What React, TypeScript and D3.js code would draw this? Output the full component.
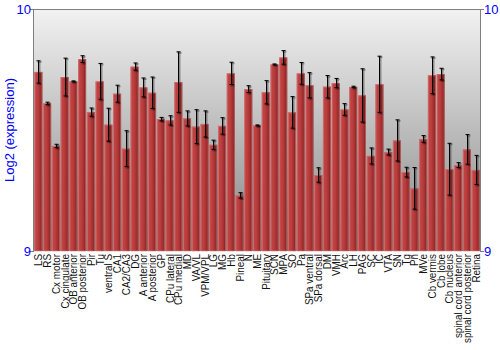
import React from "react";
import * as d3 from "d3";

const categories = ["LS","RS","Cx motor","Cx cingulate","OB anterior","OB posterior","Pir","Tu","ventral S","CA1","CA2/CA3","DG","A anterior","A posterior","GP","CPu lateral","CPu medial","MD","VA/VL","VPM/VPL","LG","MG","Hb","Pineal","N","ME","Pituitary","SCN","MPA","SO","Pa","SPa ventral","SPa dorsal","DM","VMH","Arc","LH","PAG","SC","IC","VTA","SN","Tg","Pn","MVe","Cb vermis","Cb lobe","Cb nucleus","spinal cord anterior","spinal cord posterior","Retina"];

const values = [9.740,9.610,9.434,9.719,9.701,9.793,9.574,9.701,9.522,9.650,9.423,9.762,9.676,9.654,9.545,9.540,9.698,9.548,9.514,9.525,9.439,9.517,9.734,9.230,9.669,9.519,9.656,9.771,9.800,9.573,9.734,9.685,9.314,9.679,9.694,9.585,9.678,9.643,9.393,9.689,9.409,9.457,9.326,9.259,9.463,9.726,9.731,9.338,9.355,9.420,9.335];

const errors = [0.046,0.005,0.007,0.078,0.002,0.014,0.017,0.074,0.068,0.035,0.074,0.015,0.039,0.065,0.007,0.019,0.125,0.031,0.070,0.054,0.019,0.034,0.046,0.011,0.014,0.002,0.048,0.002,0.028,0.065,0.045,0.052,0.030,0.046,0.019,0.024,0.003,0.110,0.033,0.116,0.012,0.085,0.020,0.086,0.014,0.076,0.024,0.107,0.010,0.061,0.060];

const yTicks = [9, 10];
const yLabel = "Log2 (expression)";

export default function App() {
  const W = 500, H = 350;
  const left = 34, right = 480, top = 9, bottom = 251;
  const x = d3.scaleBand<string>().domain(categories).range([left, right]).paddingInner(0.08).paddingOuter(0.04);
  const y = d3.scaleLinear().domain([9, 10]).range([bottom, top]);
  const bw = x.bandwidth();
  const blue = "#0000ff";
  const font = "Liberation Sans, Arial, sans-serif";
  return (
    <svg width={W} height={H} style={{ position: "absolute", left: 0, top: 0, background: "#fff" }}>
      <defs>
        <linearGradient id="bg" x1="0" y1="0" x2="0" y2="1">
          <stop offset="0" stopColor="#f2f2f2" />
          <stop offset="1" stopColor="#868686" />
        </linearGradient>
        <linearGradient id="bar" x1="0" y1="0" x2="1" y2="0">
          <stop offset="0" stopColor="#c24848" />
          <stop offset="0.45" stopColor="#bb3c3c" />
          <stop offset="0.75" stopColor="#a02e2e" />
          <stop offset="1" stopColor="#6e1818" />
        </linearGradient>
      </defs>
      <rect x={left} y={top} width={right - left} height={bottom - top} fill="url(#bg)" />
      {categories.map((c, i) => {
        const bx = x(c)!;
        const by = y(values[i]);
        return (
          <g key={c}>
            <rect x={bx} y={by} width={bw} height={bottom - by} fill="url(#bar)" />
            <rect x={bx + 0.5} y={by + 0.5} width={bw - 1} height={bottom - by - 0.5} fill="none" stroke="#d98080" strokeOpacity={0.6} strokeWidth={1} />
          </g>
        );
      })}
      {categories.map((c, i) => {
        const cx = Math.round(x(c)! + bw / 2) + 0.5;
        const y1 = y(values[i] + errors[i]);
        const y2 = y(values[i] - errors[i]);
        return (
          <g key={"e" + c}>
            <g stroke="#000" strokeOpacity={0.35} strokeWidth={2}>
              <line x1={cx + 1} x2={cx + 1} y1={y1 + 1} y2={y2 + 1} />
              <line x1={cx - 1} x2={cx + 3} y1={y1 + 1} y2={y1 + 1} />
              <line x1={cx - 1} x2={cx + 3} y1={y2 + 1} y2={y2 + 1} />
            </g>
            <g stroke="#000" strokeWidth={1}>
              <line x1={cx} x2={cx} y1={y1} y2={y2} />
              <line x1={cx - 2} x2={cx + 2} y1={y1} y2={y1} />
              <line x1={cx - 2} x2={cx + 2} y1={y2} y2={y2} />
            </g>
          </g>
        );
      })}
      <line x1={left} x2={right} y1={top + 0.5} y2={top + 0.5} stroke="#7f7f7f" />
      <line x1={left - 0.5} x2={left - 0.5} y1={top} y2={bottom} stroke="#7f7f7f" />
      <line x1={right + 0.5} x2={right + 0.5} y1={top} y2={bottom} stroke="#7f7f7f" />
      {yTicks.map(t => (
        <g key={t}>
          <line x1={left - 4} x2={left} y1={y(t) + 0.5} y2={y(t) + 0.5} stroke="#7f7f7f" />
          <line x1={right} x2={right + 4} y1={y(t) + 0.5} y2={y(t) + 0.5} stroke="#7f7f7f" />
          <text x={left - 3} y={y(t)} dy="0.35em" textAnchor="end" fill={blue} fontSize={13} fontFamily={font}>{t}</text>
          <text x={right + 4} y={y(t)} dy="0.35em" textAnchor="start" fill={blue} fontSize={13} fontFamily={font}>{t}</text>
        </g>
      ))}
      <text transform={`translate(14,${(top + bottom) / 2}) rotate(-90)`} textAnchor="middle" fill={blue} fontSize={13} fontFamily={font}>{yLabel}</text>
      {categories.map(c => (
        <text key={"l" + c} transform={`translate(${x(c)! + bw / 2 + 4},${bottom + 3}) rotate(-90) scale(0.86,1)`} textAnchor="end" fill="#111" fontSize={11.5} fontFamily={font}>{c}</text>
      ))}
    </svg>
  );
}
